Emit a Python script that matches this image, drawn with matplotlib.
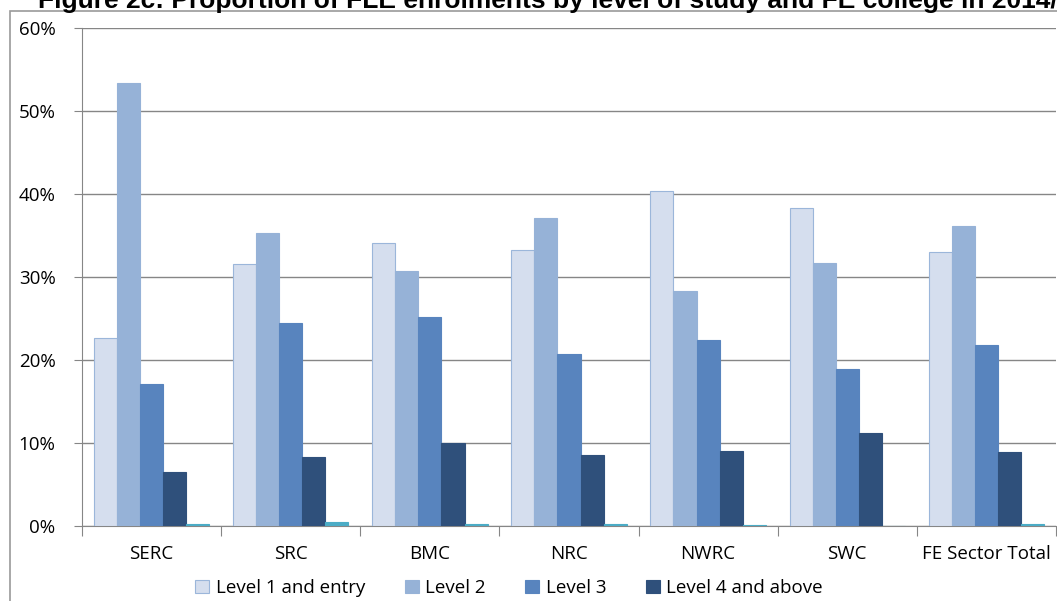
import numpy as np
import matplotlib.pyplot as plt
from matplotlib.patches import Rectangle

plt.rcParams['font.family'] = ['Open Sans', 'DejaVu Sans']

colleges = ['SERC', 'SRC', 'BMC', 'NRC', 'NWRC', 'SWC', 'FE Sector Total']
level1 = [22.7, 31.6, 34.1, 33.3, 40.4, 38.3, 33.0]
level2 = [53.4, 35.3, 30.7, 37.1, 28.3, 31.7, 36.1]
level3 = [17.1, 24.5, 25.2, 20.7, 22.4, 18.9, 21.8]
level4 = [6.5, 8.3, 10.0, 8.6, 9.0, 11.2, 8.9]
other = [0.3, 0.5, 0.3, 0.3, 0.1, 0.0, 0.3]

series = [level1, level2, level3, level4, other]
labels = ['Level 1 and entry', 'Level 2', 'Level 3', 'Level 4 and above', None]
colors = ['#D5DEEE', '#96B2D7', '#5884BE', '#2F507B', '#4BACC6']
edges = ['#9BB6DA', '#96B2D7', '#5884BE', '#2F507B', '#4BACC6']

fig = plt.figure(figsize=(10.57, 6.01), dpi=100)
# outer chart border
fig.patches.append(Rectangle((10 / 1057, -0.1), 1.2, (601 - 11) / 601 + 0.1,
                             transform=fig.transFigure, fill=False,
                             edgecolor='#9A9A9A', linewidth=1.2))
# title is cut off at the top of the picture, as in the source
fig.text(38 / 1057, 1 - 8 / 601, 'Figure 2c: Proportion of FLE enrolments by level of study and FE college in 2014/15',
         fontsize=19, fontweight='bold', family=['Liberation Sans', 'DejaVu Sans'],
         ha='left', va='baseline')

ax = fig.add_axes([82 / 1057, 75 / 601, (1056 - 82) / 1057, (526 - 28) / 601])
x = np.arange(len(colleges))
w = 0.166
for j, (vals, lab, c, ec) in enumerate(zip(series, labels, colors, edges)):
    ax.bar(x + (j - 2) * w, vals, w, color=c, edgecolor=ec, linewidth=0.8,
           label=lab if lab else '_nolegend_', zorder=3)

ax.set_xlim(-0.5, 6.5)
ax.set_ylim(0, 60)
ax.set_yticks(range(0, 61, 10))
ax.set_yticklabels([f'{v}%' for v in range(0, 61, 10)])
ax.yaxis.grid(True, color='#868686', linewidth=1)
ax.set_axisbelow(True)
ax.set_xticks(np.arange(-0.5, 7.0, 1.0))
ax.set_xticklabels([])
ax.set_xticks(x, minor=True)
ax.set_xticklabels(colleges, minor=True)
ax.tick_params(axis='x', which='minor', length=0, pad=14, labelsize=13.5)
ax.tick_params(axis='x', which='major', length=7, color='#868686', direction='out')
ax.tick_params(axis='y', length=6, color='#868686', pad=13, labelsize=13.5)
for s in ['top', 'right']:
    ax.spines[s].set_visible(False)
for s in ['left', 'bottom']:
    ax.spines[s].set_color('#868686')

fig.legend(loc='center', bbox_to_anchor=(509 / 1057, 1 - 588 / 601), ncol=4,
           frameon=False, fontsize=13.5, handlelength=0.75, handleheight=0.75,
           handletextpad=0.35, columnspacing=2.1)

fig.savefig('out.png', dpi=100)
